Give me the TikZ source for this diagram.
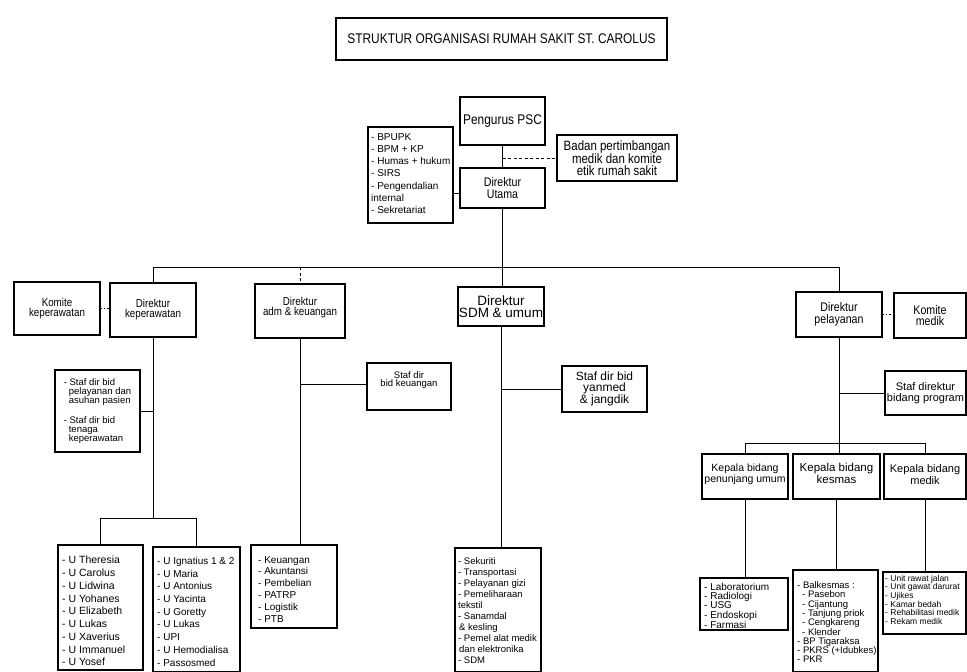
\documentclass[tikz,border=0pt]{standalone}
\usepackage{fontspec}
\setmainfont{Liberation Sans}
\newfontfamily\nar{Liberation Sans}[FakeStretch=0.85]
\newcommand\fsz[2]{\fontsize{#1}{#2}\selectfont}
\tikzset{
  box/.style={draw, line width=1.3pt, inner sep=0pt, outer sep=0pt, rectangle, anchor=north west},
  txt/.style={inner sep=0pt, align=center},
  lst/.style={inner sep=0pt, align=left, anchor=north west},
  con/.style={line width=1pt},
  dsh/.style={con, dash pattern=on 3pt off 2.5pt},
  dotline/.style={con, dash pattern=on 1.5pt off 2pt},
}
\newcommand\mkbox[5]{\node[box, minimum width={#4-#2}, minimum height={#5-#3}] (#1) at (#2,#3) {};}
\begin{document}
\begin{tikzpicture}[x=1pt,y=-1pt]
\useasboundingbox (0,0) rectangle (967,672);
\clip (0,0) rectangle (967,672);
\fill[white] (0,0) rectangle (967,672);

% ---- boxes ----
\mkbox{T}{336}{18}{667}{60}
\mkbox{P}{460}{97}{545}{145}
\mkbox{DU}{460}{168}{545}{208}
\mkbox{L}{368}{127}{453}{223}
\mkbox{BD}{557}{135}{677}{181}
\mkbox{KK}{14}{282}{100}{335}
\mkbox{DK}{110}{283}{196}{337}
\mkbox{ADM}{255}{284}{345}{338}
\mkbox{SDM}{458}{287}{544}{326}
\mkbox{DP}{796}{292}{882}{337}
\mkbox{KM}{894}{293}{966}{338}
\mkbox{SL}{55}{370}{140}{452}
\mkbox{SK}{367}{363}{451}{410}
\mkbox{YM}{562}{366}{647}{412}
\mkbox{SP}{885}{371}{966}{415}
\mkbox{KP}{702}{454}{788}{499}
\mkbox{KS}{793}{454}{880}{499}
\mkbox{KMd}{884}{454}{966}{499}
\mkbox{UT}{58}{545}{143}{670}
\mkbox{UI}{153}{547}{240}{672}
\mkbox{KU}{251}{545}{337}{628}
\mkbox{SU}{455}{548}{541}{672}
\mkbox{LB}{700}{578}{788}{630}
\mkbox{BK}{793}{570}{878}{672}
\mkbox{UN}{883}{572}{966}{634}

% ---- centred texts ----
\node[txt, font=\nar\fsz{14}{14}] (Tt) at (T.center) {STRUKTUR ORGANISASI RUMAH SAKIT ST. CAROLUS};
\node[txt, font=\nar\fsz{14}{14}] (Pt) at (P.center) {Pengurus PSC};
\node[txt, font=\nar\fsz{12.5}{11.5}] (DUt) at (DU.center) {Direktur\\Utama};
\node[txt, font=\nar\fsz{13.5}{11.7}] (BDt) at (BD.center) {Badan pertimbangan\\medik dan komite\\etik rumah sakit};
\node[txt, font=\nar\fsz{11.5}{10}] (KKt) at (KK.center) {Komite\\keperawatan};
\node[txt, font=\nar\fsz{11.5}{10}] (DKt) at (DK.center) {Direktur\\keperawatan};
\node[txt, font=\nar\fsz{11.5}{10}] (ADMt) at ([yshift=3pt]ADM.center) {Direktur\\adm \& keuangan};
\node[txt, font=\fsz{13.5}{11.7}] (SDMt) at (SDM.center) {Direktur\\SDM \& umum};
\node[txt, font=\nar\fsz{12.5}{11.7}] (DPt) at (DP.center) {Direktur\\pelayanan};
\node[txt, font=\nar\fsz{12.5}{11.7}] (KMt) at (KM.center) {Komite\\medik};
\node[txt, font=\fsz{9.5}{8}] (SKt) at ([yshift=6pt]SK.center) {Staf dir\\bid keuangan};
\node[txt, font=\fsz{12}{11}] (YMt) at (YM.center) {Staf dir bid\\yanmed\\\& jangdik};
\node[txt, font=\fsz{11}{11}] (SPt) at (SP.center) {Staf direktur\\bidang program};
\node[txt, font=\fsz{10.5}{9}] (KPt) at ([yshift=2pt]KP.center) {Kepala bidang\\penunjang umum};
\node[txt, font=\fsz{11.5}{10}] (KSt) at ([yshift=3pt]KS.center) {Kepala bidang\\kesmas};
\node[txt, font=\fsz{11}{10}] (KMdt) at ([yshift=2pt]KMd.center) {Kepala bidang\\medik};
\node[txt, align=left, font=\fsz{9.5}{9.3}] (SLt) at (SL.center) {- Staf dir bid\\\hspace*{5pt}pelayanan dan\\\hspace*{5pt}asuhan pasien\\[10pt]- Staf dir bid\\\hspace*{5pt}tenaga\\\hspace*{5pt}keperawatan};

% ---- list texts ----
\node[lst, font=\fsz{10}{12.3}] (Lt) at ([xshift=3pt,yshift=-6pt]L.north west)
  {- BPUPK\\- BPM + KP\\- Humas + hukum\\- SIRS\\- Pengendalian\\internal\\- Sekretariat};
\node[lst, font=\fsz{10.5}{12.75}] (UTt) at ([xshift=4pt,yshift=-11pt]UT.north west)
  {- U Theresia\\- U Carolus\\- U Lidwina\\- U Yohanes\\- U Elizabeth\\- U Lukas\\- U Xaverius\\- U Immanuel\\- U Yosef};
\node[lst, font=\fsz{10}{12.7}] (UIt) at ([xshift=4pt,yshift=-10pt]UI.north west)
  {- U Ignatius 1 \& 2\\- U Maria\\- U Antonius\\- U Yacinta\\- U Goretty\\- U Lukas\\- UPI\\- U Hemodialisa\\- Passosmed};
\node[lst, font=\fsz{10}{11.9}] (KUt) at ([xshift=7pt,yshift=-11pt]KU.north west)
  {- Keuangan\\- Akuntansi\\- Pembelian\\- PATRP\\- Logistik\\- PTB};
\node[lst, font=\fsz{9.5}{11.1}] (SUt) at ([xshift=3pt,yshift=-9pt]SU.north west)
  {- Sekuriti\\- Transportasi\\- Pelayanan gizi\\- Pemeliharaan\\tekstil\\- Sanamdal\\\hspace*{1pt}\& kesling\\- Pemel alat medik\\\hspace*{1pt}dan elektronika\\- SDM};
\node[lst, font=\fsz{10}{9.2}] (LBt) at ([xshift=4pt,yshift=-5pt]LB.north west)
  {- Laboratorium\\- Radiologi\\- USG\\- Endoskopi\\- Farmasi};
\node[lst, font=\fsz{9.5}{9.3}] (BKt) at ([xshift=4pt,yshift=-11.5pt]BK.north west)
  {- Balkesmas :\\\hspace*{5pt}- Pasebon\\\hspace*{5pt}- Cijantung\\\hspace*{5pt}- Tanjung priok\\\hspace*{5pt}- Cengkareng\\\hspace*{5pt}- Klender\\- BP Tigaraksa\\- PKRS (+Idubkes)\\- PKR};
\node[lst, font=\fsz{8.5}{8.6}] (UNt) at ([xshift=2pt,yshift=-3pt]UN.north west)
  {- Unit rawat jalan\\- Unit gawat darurat\\- Ujikes\\- Kamar bedah\\- Rehabilitasi medik\\- Rekam medik};

% ---- connectors ----
\draw[con] (P.south) -- (DU.north);
\draw[con] (DU.south) -- (DU.south |- SDM.north);
\draw[dsh] (P.south |- BD.west) -- (BD.west);
\draw[con] (L.east |- 0,193) -- (DU.west |- 0,193);
\draw[con] (DK.north) |- (DP.north |- 0,267) -- (DP.north);
\draw[dsh] (ADM.north |- 0,267) -- (ADM.north);
\draw[dotline] (KK.east) -- (KK.east -| DK.west);
\draw[dotline] (DP.east) -- (DP.east -| KM.west);
% keperawatan branch
\draw[con] (DK.south) -- (DK.south |- 0,518);
\draw[con] (UT.north) |- (UI.north |- 0,518) -- (UI.north);
\draw[con] (SL.east) -- (SL.east -| DK.south);
% adm branch
\draw[con] (ADM.south) -- (ADM.south |- KU.north);
\draw[con] (ADM.south |- 0,384) -- (SK.west |- 0,384);
% SDM branch
\draw[con] (SDM.south) -- (SDM.south |- SU.north);
\draw[con] (SDM.south |- YM.west) -- (YM.west);
% pelayanan branch
\draw[con] (DP.south) -- (DP.south |- KS.north);
\draw[con] (DP.south |- SP.west) -- (SP.west);
\draw[con] (KP.north) |- (KMd.north |- 0,443) -- (KMd.north);
\draw[con] (KP.south) -- (KP.south |- LB.north);
\draw[con] (KS.south) -- (KS.south |- BK.north);
\draw[con] (KMd.south) -- (KMd.south |- UN.north);
\end{tikzpicture}
\end{document}
